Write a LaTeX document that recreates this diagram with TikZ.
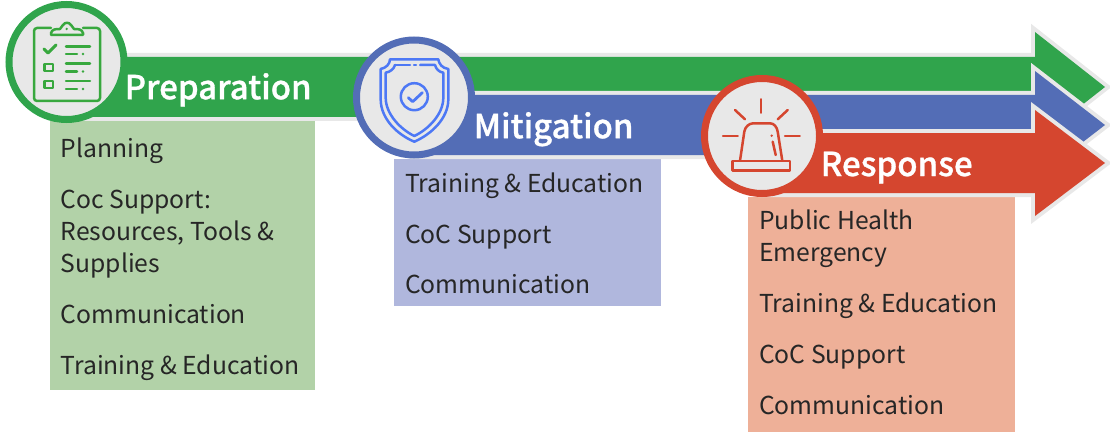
\documentclass[tikz,border=0pt]{standalone}
\usepackage{fontspec}
\setmainfont{Noto Sans CJK SC}
\newfontfamily\titlefont[FakeBold=0.9]{Noto Sans CJK SC Medium}
\definecolor{gbar}{HTML}{30A44C}
\definecolor{bbar}{HTML}{536DB6}
\definecolor{rbar}{HTML}{D5462F}
\definecolor{gbox}{HTML}{B2D2A8}
\definecolor{bbox}{HTML}{B0B7DD}
\definecolor{rbox}{HTML}{EEB098}
\definecolor{edgegrey}{HTML}{E8E8E8}
\definecolor{gicon}{HTML}{38A83E}
\definecolor{bicon}{HTML}{4D78F5}
\definecolor{ricon}{HTML}{D5462F}
\definecolor{ink}{HTML}{262626}
\tikzset{
  x=1pt,y=-1pt,
  listtext/.style={anchor=base west,inner sep=0pt,text=ink,font=\fontsize{24.7}{30}\selectfont},
  titletext/.style={anchor=base west,inner sep=0pt,text=white,font=\titlefont\fontsize{33}{38}\selectfont},
  badge/.style={circle,draw=#1,line width=7pt,fill=edgegrey,minimum size=115pt,inner sep=0pt},
  edgeline/.style={draw=edgegrey,line width=8pt,line join=miter,miter limit=3},
  icn/.style={draw=#1,line width=2.5pt,line cap=round,line join=round},
}
\newcommand{\arrowpath}[4]{(#1,#2) -- (1035,#2) -- (1035,#3) -- (1105,#4) -- (1035,2*#4-#3) -- (1035,2*#4-#2) -- (#1,2*#4-#2) -- cycle}
\begin{document}
\begin{tikzpicture}
\useasboundingbox (0,0) rectangle (1110,433);
% boxes
\fill[gbox] (50,121) rectangle (315,390);
\fill[bbox] (394,159) rectangle (661,306);
\fill[rbox] (748,197) rectangle (1015,432);
% green
\path[edgeline] \arrowpath{66}{57}{32}{87};
\fill[gbar] \arrowpath{66}{57}{32}{87};
\node[badge=gbar] (gc) at (66.5,62) {};
% blue
\path[edgeline] \arrowpath{414}{95}{71}{125};
\fill[bbar] \arrowpath{414}{95}{71}{125};
\node[badge=bbar] (bc) at (414,97.5) {};
% red
\path[edgeline] \arrowpath{762}{133}{110}{163};
\fill[rbar] \arrowpath{762}{133}{110}{163};
\node[badge=rbar] (rc) at (762,136) {};
% clipboard icon
\draw[icn=gicon,rounded corners=3pt] (51,28) -- (34,28) -- (34,101) -- (100,101) -- (100,28) -- (83,28);
\draw[icn=gicon] (51,35) -- (83,35) -- (83,33) .. controls (82,29) and (78,29) .. (74,29) -- (71,25) .. controls (69,22) and (65,22) .. (63,25) -- (60,29) .. controls (56,29) and (52,29) .. (51,33) -- cycle;
\fill[gicon] (66.7,29) circle (1.3pt);
\draw[icn=gicon,line width=3pt] (44,49) -- (48,53) -- (56,45);
\draw[icn=gicon] (44.5,64) rectangle (53,71);
\draw[icn=gicon] (44.5,81) rectangle (53,88);
\foreach \ya/\yb in {46.5/54,63.5/71.5,81/89}{
  \draw[icn=gicon] (66,\ya) -- (90,\ya);
  \draw[icn=gicon] (66,\yb) -- (77,\yb);
  \fill[gicon] (83,\yb) circle (1.4pt);
}
% shield icon
\draw[icn=bicon] (390,59.3) -- (438.3,59.3) .. controls (439,64) and (442,68) .. (448.3,69) -- (448.3,100) .. controls (448,118) and (432,134) .. (414.3,141.7) .. controls (396,134) and (381,118) .. (380.7,100) -- (380.7,69) .. controls (386,68) and (390,64) .. (390,59.3) -- cycle;
\draw[icn=bicon] (395,65) -- (410,65);
\draw[icn=bicon] (414,65) -- (416,65);
\draw[icn=bicon] (420,65) -- (435,65) .. controls (436,69) and (439,72) .. (443.3,72.7) -- (443.3,98.3) .. controls (443,114) and (429,129) .. (414.3,136) .. controls (400,129) and (386,114) .. (385.7,98.3) -- (385.7,72.7) .. controls (390,72) and (394,69) .. (395,65);
\draw[icn=bicon] (414.3,96.7) circle (13.5pt);
\draw[icn=bicon,line width=2.8pt] (408.3,97.7) -- (412.7,101.7) -- (422.3,92.7);
% siren icon
\draw[icn=ricon] (761,99.3) -- (761,112.7);
\draw[icn=ricon] (735,110) -- (745,119.3);
\draw[icn=ricon] (787.7,110) -- (777.7,119.3);
\draw[icn=ricon] (723,136) -- (737.7,136);
\draw[icn=ricon] (785,136) -- (799.7,136);
\draw[icn=ricon] (740,160.7) -- (744.3,131.7) .. controls (745,127) and (749,123.3) .. (753.3,123.3) -- (770,123.3) .. controls (774,123.3) and (777,127) .. (777.7,131.7) -- (782.3,160.7);
\draw[icn=ricon] (732.7,161) rectangle (790,170.7);
\fill[ricon] (771.7,135.7) circle (1.3pt);
\draw[icn=ricon] (772.7,141.7) -- (775.7,155);
% titles
\node[titletext] (t1) at (124.5,99.2) {Preparation};
\node[titletext] (t2) at (473.5,138.2) {Mitigation};
\node[titletext] (t3) at (820.5,176) {Response};
% green list
\node[listtext] (g1) at (60.5,157.5) {Planning};
\node[listtext] (g2) at (60.5,208) {Coc Support:};
\node[listtext] (g3) at (60.5,240) {Resources, Tools \&};
\node[listtext] (g4) at (60.5,272) {Supplies};
\node[listtext] (g5) at (60.5,323) {Communication};
\node[listtext] (g6) at (60.5,374) {Training \& Education};
% blue list
\node[listtext] (b1) at (405,192) {Training \& Education};
\node[listtext] (b2) at (405,243) {CoC Support};
\node[listtext] (b3) at (405,293) {Communication};
% red list
\node[listtext] (r1) at (759,229) {Public Health};
\node[listtext] (r2) at (759,261) {Emergency};
\node[listtext] (r3) at (759,312) {Training \& Education};
\node[listtext] (r4) at (759,363) {CoC Support};
\node[listtext] (r5) at (759,414) {Communication};
\end{tikzpicture}
\end{document}
